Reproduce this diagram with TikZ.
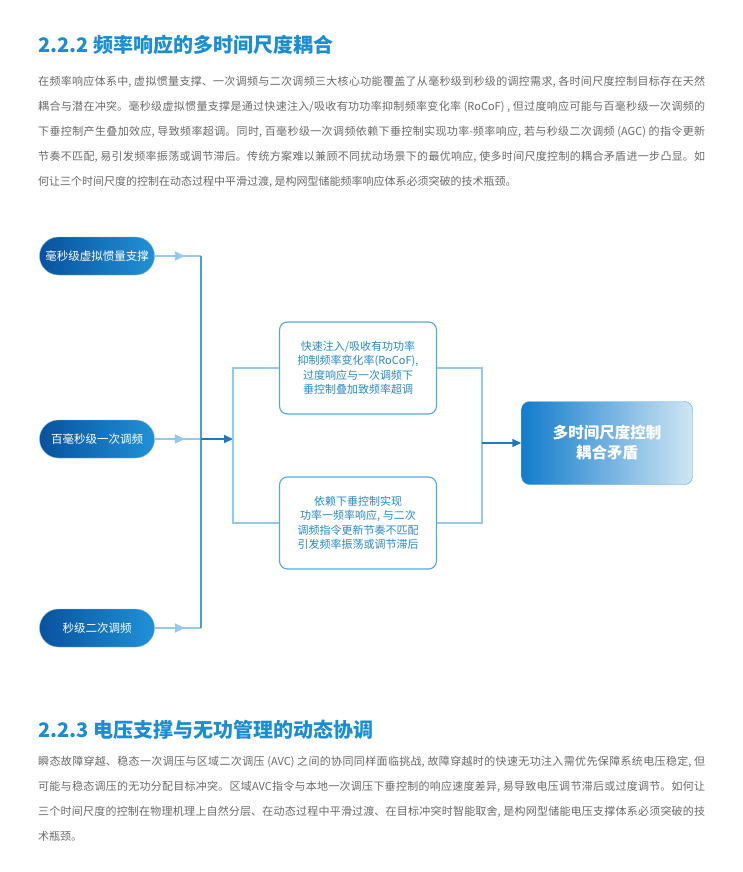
\documentclass[tikz,border=0pt]{standalone}
\usepackage{fontspec}
\setmainfont{Noto Sans CJK SC}
\XeTeXlinebreaklocale "zh"
\XeTeXlinebreakskip=0pt plus 2pt
\tolerance=9999
\usepackage{tikz}
\usetikzlibrary{arrows.meta, positioning, calc, decorations.markings}
\definecolor{TitleBlue}{RGB}{27, 141, 210}
\definecolor{BodyGray}{RGB}{105, 105, 105}
\definecolor{PillDark}{RGB}{8, 82, 158}
\definecolor{PillLight}{RGB}{32, 145, 215}
\definecolor{BoxEdge}{RGB}{85, 168, 218}
\definecolor{BoxText}{RGB}{38, 138, 200}
\definecolor{LinkLight}{RGB}{150, 200, 233}
\definecolor{LinkMid}{RGB}{80, 155, 212}
\definecolor{LinkDark}{RGB}{35, 120, 190}
\definecolor{CoreDark}{RGB}{18, 124, 204}
\definecolor{CoreLight}{RGB}{208, 230, 244}

\begin{document}
\begin{tikzpicture}[x=1pt,y=-1pt,
	title/.style={anchor=west,inner sep=0pt,text=TitleBlue,
		font=\fontsize{20}{24}\selectfont\bfseries},
	para/.style={anchor=north west,inner sep=0pt,text width=667pt,align=justify,
		text=BodyGray,font=\fontsize{11}{25}\selectfont},
	pill/.style={rounded corners=19pt,minimum width=115pt,minimum height=38pt,
		left color=PillDark,right color=PillLight,draw=PillLight!60,
		text=white,font=\fontsize{11.5}{13}\selectfont},
	note/.style={draw=BoxEdge,line width=1.1pt,rounded corners=8pt,fill=white,
		minimum width=157pt,minimum height=92pt,align=center,text=BoxText,
		font=\fontsize{11}{14.5}\selectfont},
	core/.style={draw=BoxEdge,rounded corners=8pt,minimum width=171pt,minimum height=83pt,
		left color=CoreDark,right color=CoreLight,align=center,text=white,
		font=\fontsize{15.5}{20}\selectfont\bfseries},
	feed/.style={LinkLight,line width=2pt,postaction={decorate},
		decoration={markings,mark=at position 0.65 with {\arrow{Triangle[length=10pt,width=9pt]}}}},
	bus/.style={LinkMid,line width=1.6pt},
	wire/.style={LinkLight,line width=1.6pt},
	push/.style={LinkDark,line width=1.6pt,-{Triangle[length=9pt,width=8pt]}}]
\useasboundingbox (0,0) rectangle (742,872);
% section 2.2.2
\node[title] (T1) at (38,45) {2.2.2 频率响应的多时间尺度耦合};
\node[para] (P1) at (38,76) {在频率响应体系中, 虚拟惯量支撑、一次调频与二次调频三大核心功能覆盖了从毫秒级到秒级的调控需求, 各时间尺度控制目标存在天然\linebreak
耦合与潜在冲突。毫秒级虚拟惯量支撑是通过快速注入/吸收有功功率抑制频率变化率 (RoCoF) , 但过度响应可能与百毫秒级一次调频的\linebreak
下垂控制产生叠加效应, 导致频率超调。同时, 百毫秒级一次调频依赖下垂控制实现功率-频率响应, 若与秒级二次调频 (AGC) 的指令更新\linebreak
节奏不匹配, 易引发频率振荡或调节滞后。传统方案难以兼顾不同扰动场景下的最优响应, 使多时间尺度控制的耦合矛盾进一步凸显。如\linebreak
何让三个时间尺度的控制在动态过程中平滑过渡, 是构网型储能频率响应体系必须突破的技术瓶颈。};
% diagram
\foreach \n/\y/\t in {ms/256/毫秒级虚拟惯量支撑,pf/439/百毫秒级一次调频,sf/628/秒级二次调频}
	\node[pill] (\n) at (97,\y) {\t};
\coordinate (busx) at (201,0);
\coordinate (splitx) at (233,0);
\coordinate (joinx) at (482,0);
\node[note] (A) at (358,368) {快速注入/吸收有功功率\\抑制频率变化率(RoCoF),\\过度响应与一次调频下\\垂控制叠加致频率超调};
\node[note] (B) at (358,523) {依赖下垂控制实现\\功率一频率响应, 与二次\\调频指令更新节奏不匹配\\引发频率振荡或调节滞后};
\node[core] (C) at (607,443) {多时间尺度控制\\耦合矛盾};
\foreach \n in {ms,pf,sf}\draw[feed] (\n.east) -- (\n.east -| busx);
\draw[bus] (ms.east -| busx) -- (sf.east -| busx);
\draw[push] (pf.east -| busx) -- (pf.east -| splitx);
\draw[wire] (A.west) -- (A.west -| splitx) -- (B.west -| splitx) -- (B.west);
\draw[wire] (A.east) -- (A.east -| joinx) -- (B.east -| joinx) -- (B.east);
\draw[push] (C.west -| joinx) -- (C.west);
% section 2.2.3
\node[title] (T2) at (38,730) {2.2.3 电压支撑与无功管理的动态协调};
\node[para] (P2) at (38,756) {瞬态故障穿越、稳态一次调压与区域二次调压 (AVC) 之间的协同同样面临挑战, 故障穿越时的快速无功注入需优先保障系统电压稳定, 但\linebreak
可能与稳态调压的无功分配目标冲突。区域AVC指令与本地一次调压下垂控制的响应速度差异, 易导致电压调节滞后或过度调节。如何让\linebreak
三个时间尺度的控制在物理机理上自然分层、在动态过程中平滑过渡、在目标冲突时智能取舍, 是构网型储能电压支撑体系必须突破的技\linebreak
术瓶颈。};
\end{tikzpicture}
\end{document}
